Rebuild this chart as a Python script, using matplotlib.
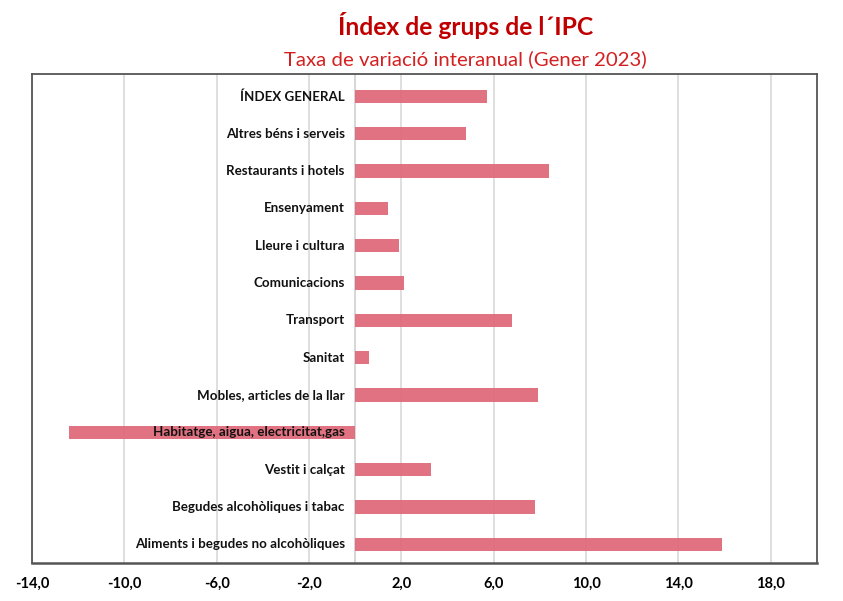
import matplotlib
matplotlib.use("Agg")
import matplotlib.pyplot as plt
from matplotlib.ticker import FuncFormatter

plt.rcParams["font.family"] = ["Lato", "DejaVu Sans"]

categories = [
    "Aliments i begudes no alcohòliques",
    "Begudes alcohòliques i tabac",
    "Vestit i calçat",
    "Habitatge, aigua, electricitat,gas",
    "Mobles, articles de la llar",
    "Sanitat",
    "Transport",
    "Comunicacions",
    "Lleure i cultura",
    "Ensenyament",
    "Restaurants i hotels",
    "Altres béns i serveis",
    "ÍNDEX GENERAL",
]
values = [15.9, 7.8, 3.3, -12.4, 7.9, 0.6, 6.8, 2.1, 1.9, 1.4, 8.4, 4.8, 5.7]
xticks = [-14, -10, -6, -2, 2, 6, 10, 14, 18]

fig = plt.figure(figsize=(8.43, 6.01), dpi=100)
ax = fig.add_axes([0.038, 0.063, 0.931, 0.814])

ypos = list(range(len(categories)))
ax.barh(ypos, values, height=0.36, color="#E06A7A", alpha=0.95, zorder=2)

ax.set_xlim(-14, 20)
ax.set_ylim(-0.5, 12.6)
ax.set_xticks(xticks)
ax.xaxis.set_major_formatter(FuncFormatter(lambda v, p: f"{v:.1f}".replace(".", ",")))
ax.grid(axis="x", color="#d9d9d9", linewidth=1.2, zorder=0)
ax.axvline(0, color="#cfcfcf", linewidth=1.2, zorder=1)
ax.set_yticks([])
ax.tick_params(axis="x", length=0, pad=10, labelsize=10.5)
for lab in ax.get_xticklabels():
    lab.set_fontweight("bold")

for y, name in zip(ypos, categories):
    ax.text(-0.45, y, name, ha="right", va="center", fontsize=9.6,
            fontweight="bold", color="#111111", zorder=3)

for sp in ax.spines.values():
    sp.set_color("#555555")
    sp.set_linewidth(1.3)
ax.spines["bottom"].set_linewidth(1.8)

fig.text(0.552, 0.942, "Índex de grups de l´IPC", ha="center", va="baseline",
         fontsize=17.7, fontweight="bold", color="#C00000")
fig.text(0.552, 0.892, "Taxa de variació interanual (Gener 2023)", ha="center",
         va="baseline", fontsize=14.7, color="#D42020")

fig.savefig("out.png", dpi=100)
